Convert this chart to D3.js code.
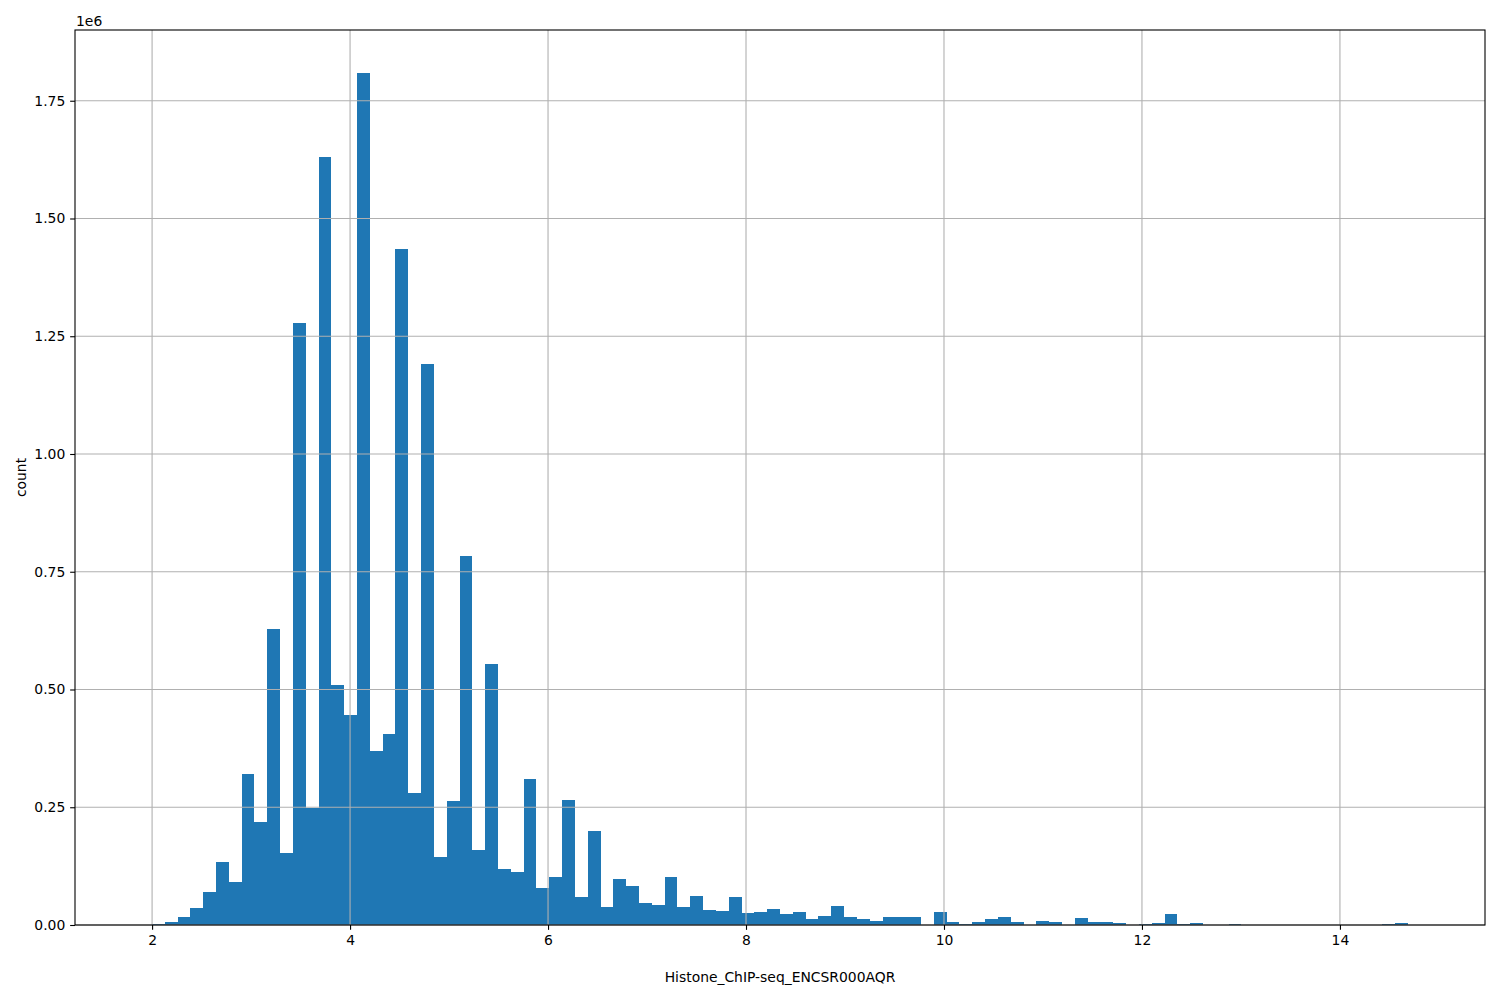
<!DOCTYPE html>
<html>
<head>
<meta charset="utf-8">
<script src="https://cdn.jsdelivr.net/npm/d3@7"></script>
<style>
  html, body { margin: 0; padding: 0; background: #fff; }
  svg { display: block; }
  text { font-family: "DejaVu Sans", sans-serif; }
</style>
</head>
<body>
<svg id="chart" width="1500" height="1000"></svg>
<script>
// ---- data ----
const binLow = 1.8687;      // lower edge of first bin
const binHigh = 14.818;     // upper edge of last bin
const counts = [
  300, 2100, 7000, 17700, 36800, 70800, 134500, 92000, 321000, 219500,
  629000, 153600, 1278700, 248500, 1631000, 510000, 446000, 1809700, 369600, 405700,
  1435800, 280000, 1192000, 144600, 263400, 784000, 159300, 554000, 119000, 112600,
  310000, 78600, 102000, 265500, 59500, 199700, 38000, 97700, 82800, 46700,
  42500, 102000, 38000, 61600, 32000, 30000, 59500, 25500, 27600, 34000,
  23400, 27600, 12700, 19000, 40400, 17000, 12700, 8500, 17000, 17000,
  17000, 0, 27600, 6400, 2100, 6400, 12700, 17000, 6400, 0,
  8500, 6400, 0, 14900, 6400, 6400, 4200, 0, 2100, 4200,
  23400, 2100, 4200, 0, 0, 2100, 0, 0, 0, 0,
  0, 0, 0, 0, 0, 0, 0, 2100, 4200, 300
];
const xTicks = [2, 4, 6, 8, 10, 12, 14];
const yTicks = [0, 250000, 500000, 750000, 1000000, 1250000, 1500000, 1750000];
const xLabel = "Histone_ChIP-seq_ENCSR000AQR";
const yLabel = "count";
const offsetText = "1e6";

// ---- layout ----
const W = 1500, H = 1000;
const m = { left: 75, right: 15, top: 30, bottom: 75 };
const pw = W - m.left - m.right, ph = H - m.top - m.bottom;
const nBins = counts.length;
const bw = (binHigh - binLow) / nBins;
const bins = counts.map((c, i) => ({ x0: binLow + i * bw, x1: binLow + (i + 1) * bw, c }));

const span = binHigh - binLow;
const x = d3.scaleLinear().domain([binLow - 0.05 * span, binHigh + 0.05 * span]).range([m.left, m.left + pw]);
const ymax = d3.max(counts) * 1.05;
const y = d3.scaleLinear().domain([0, ymax]).range([m.top + ph, m.top]);

const svg = d3.select("#chart");
const fs = 13.9;
const tickLen = 4.86;

// bars
svg.append("g").selectAll("rect").data(bins).join("rect")
  .attr("x", d => x(d.x0))
  .attr("width", d => x(d.x1) - x(d.x0))
  .attr("y", d => y(d.c))
  .attr("height", d => y(0) - y(d.c))
  .attr("fill", "#1f77b4")
  .attr("shape-rendering", "crispEdges");

// grid (on top of bars, as in reference)
const grid = svg.append("g").attr("stroke", "#b0b0b0").attr("stroke-width", 1.1);
xTicks.forEach(t => grid.append("line")
  .attr("x1", x(t)).attr("x2", x(t)).attr("y1", m.top).attr("y2", m.top + ph));
yTicks.forEach(t => grid.append("line")
  .attr("x1", m.left).attr("x2", m.left + pw).attr("y1", y(t)).attr("y2", y(t)));

// axes
const xAxis = d3.axisBottom(x).tickValues(xTicks).tickFormat(d3.format("d"))
  .tickSizeInner(tickLen).tickSizeOuter(0).tickPadding(4.86);
const gx = svg.append("g").attr("transform", `translate(0,${m.top + ph})`).call(xAxis);
const yAxis = d3.axisLeft(y).tickValues(yTicks).tickFormat(d => (d / 1e6).toFixed(2))
  .tickSizeInner(tickLen).tickSizeOuter(0).tickPadding(4.86);
const gy = svg.append("g").attr("transform", `translate(${m.left},0)`).call(yAxis);
[gx, gy].forEach(g => {
  g.select(".domain").remove();
  g.selectAll("line").attr("stroke", "#000").attr("stroke-width", 1.1);
  g.selectAll("text").attr("font-size", fs).attr("fill", "#000")
    .attr("font-family", "DejaVu Sans, sans-serif");
});

// frame
svg.append("rect").attr("x", m.left).attr("y", m.top).attr("width", pw).attr("height", ph)
  .attr("fill", "none").attr("stroke", "#000").attr("stroke-width", 1.1);

// labels
svg.append("text").attr("x", m.left + pw / 2).attr("y", 982)
  .attr("text-anchor", "middle").attr("font-size", fs).text(xLabel);
svg.append("text").attr("transform", `translate(26,${m.top + ph / 2}) rotate(-90)`)
  .attr("text-anchor", "middle").attr("font-size", fs).text(yLabel);
svg.append("text").attr("x", m.left + 1).attr("y", 26)
  .attr("font-size", fs).text(offsetText);
</script>
</body>
</html>
